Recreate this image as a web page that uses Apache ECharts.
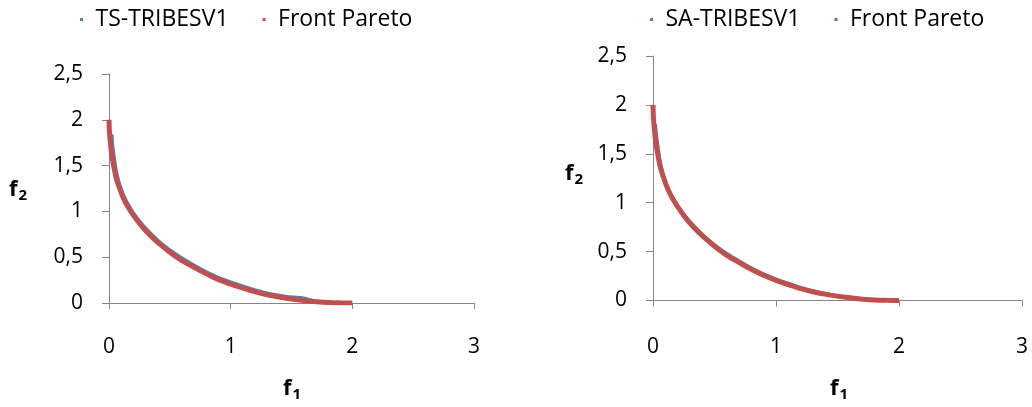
<!DOCTYPE html>
<html>
<head>
<meta charset="utf-8">
<script src="https://cdn.jsdelivr.net/npm/echarts@6/dist/echarts.min.js"></script>
<style>
html,body{margin:0;padding:0;background:#fff;}
#c{width:1032px;height:407px;}
</style>
</head>
<body>
<div id="c"></div>
<script>
// Pareto front
const paretoF1 = [0, 0.003, 0.01, 0.02, 0.035, 0.06, 0.09, 0.12, 0.16, 0.2, 0.25, 0.3, 0.36, 0.42, 0.5, 0.58, 0.67, 0.76, 0.86, 0.96, 1.07, 1.18, 1.3, 1.42, 1.55, 1.68, 1.8, 1.9, 2.0];
const paretoF2 = [2.0, 1.88, 1.77, 1.64, 1.52, 1.36, 1.24, 1.14, 1.04, 0.96, 0.87, 0.79, 0.71, 0.64, 0.555, 0.48, 0.41, 0.345, 0.28, 0.225, 0.175, 0.13, 0.09, 0.06, 0.035, 0.016, 0.006, 0.002, 0];
// TS-TRIBESV1
const tsF1 = [0.025, 0.03, 0.045, 0.06, 0.085, 0.12, 0.17, 0.22, 0.3, 0.42, 0.55, 0.7, 0.85, 1.0, 1.15, 1.3, 1.45, 1.52, 1.58, 1.63, 1.7, 1.85, 1.95];
const tsF2 = [1.84, 1.74, 1.58, 1.45, 1.31, 1.18, 1.05, 0.95, 0.82, 0.665, 0.535, 0.415, 0.31, 0.23, 0.165, 0.11, 0.075, 0.065, 0.06, 0.045, 0.02, 0.006, 0.001];
// SA-TRIBESV1
const saF1 = [0.02, 0.03, 0.045, 0.06, 0.085, 0.12, 0.17, 0.22, 0.3, 0.42, 0.55, 0.7, 0.85, 1.0, 1.15, 1.3, 1.45, 1.6, 1.75, 1.9, 2.0];
const saF2 = [1.8, 1.68, 1.54, 1.42, 1.29, 1.16, 1.03, 0.935, 0.81, 0.655, 0.525, 0.405, 0.3, 0.22, 0.155, 0.1, 0.06, 0.033, 0.014, 0.003, 0.0];
// axes
const xTicks = [0, 1, 2, 3];
const yTicks = [0, 0.5, 1, 1.5, 2, 2.5];

const zip = (a, b) => a.map((v, i) => [v, b[i]]);
const BLUE = '#4F81BD', RED = '#C0504D', AX = '#868686';
const FONT = 'Open Sans';

function xAxis(gi, margin) {
  return {
    gridIndex: gi, type: 'value', min: xTicks[0], max: xTicks[xTicks.length - 1], interval: 1,
    axisLine: { show: true, onZero: false, lineStyle: { color: AX, width: 1 } },
    axisTick: { show: true, length: 6, lineStyle: { color: AX } },
    splitLine: { show: false },
    axisLabel: { margin, color: '#000', fontFamily: FONT, fontSize: 21 }
  };
}
function yAxis(gi) {
  return {
    gridIndex: gi, type: 'value', min: yTicks[0], max: yTicks[yTicks.length - 1], interval: 0.5,
    axisLine: { show: true, onZero: false, lineStyle: { color: AX, width: 1 } },
    axisTick: { show: true, length: 7, lineStyle: { color: AX } },
    splitLine: { show: false },
    axisLabel: { margin: 26, color: '#000', fontFamily: FONT, fontSize: 21,
      formatter: v => String(v).replace('.', ',') }
  };
}
function line(name, gi, data, color, w, z) {
  return { name, type: 'line', xAxisIndex: gi, yAxisIndex: gi, data, showSymbol: false, symbol: 'none',
    smooth: 0.2, lineStyle: { color, width: w }, itemStyle: { color }, z, animation: false };
}
const sq = 'path://M0,0h1v1h-1z';
function legend(left, names) {
  return { left, top: 3, orient: 'horizontal', itemGap: 34, itemWidth: 14, itemHeight: 3,
    icon: sq, data: names, selectedMode: false,
    textStyle: { fontFamily: FONT, fontSize: 23, color: '#000', padding: [0, 0, 0, 2] } };
}
function title(x, y, sub) {
  return { type: 'text', x, y, style: {
    text: '{a|f}{b|' + sub + '}', textAlign: 'center', textVerticalAlign: 'middle',
    rich: { a: { fontFamily: FONT, fontWeight: 'bold', fontSize: 22, fill: '#000' },
            b: { fontFamily: FONT, fontWeight: 'bold', fontSize: 15, fill: '#000', padding: [12, 0, 0, 1] } } } };
}

const chart = echarts.init(document.getElementById('c'), null, { renderer: 'canvas' });
chart.setOption({
  animation: false,
  grid: [
    { left: 109, right: 558, top: 74, bottom: 104 },
    { left: 653, right: 10, top: 56, bottom: 106.5 }
  ],
  xAxis: [xAxis(0, 34), xAxis(1, 36)],
  yAxis: [yAxis(0), yAxis(1)],
  legend: [legend(75, ['TS-TRIBESV1', 'Front Pareto']), legend(645, ['SA-TRIBESV1', 'Front Pareto '])],
  series: [
    line('TS-TRIBESV1', 0, zip(tsF1, tsF2), BLUE, 3, 2),
    line('Front Pareto', 0, zip(paretoF1, paretoF2), RED, 5, 3),
    line('SA-TRIBESV1', 1, zip(saF1, saF2), BLUE, 3, 2),
    line('Front Pareto ', 1, zip(paretoF1, paretoF2), RED, 5, 3)
  ],
  graphic: [title(292, 389, '1'), title(839, 389, '1'), title(18, 190, '2'), title(574, 174, '2')]
});
</script>
</body>
</html>
